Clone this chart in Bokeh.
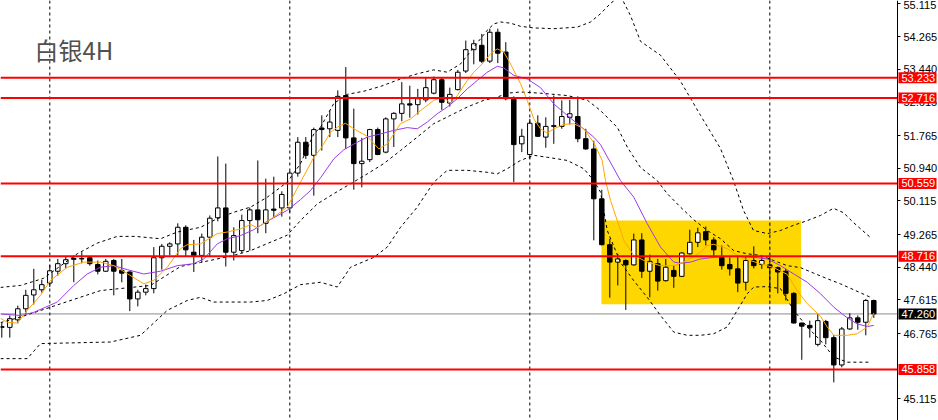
from bokeh.plotting import figure
from bokeh.models import (Range1d, FixedTicker, PrintfTickFormatter, Span,
                          BoxAnnotation, Label, LinearAxis, ColumnDataSource)
from bokeh.core.properties import value
from bokeh.embed import file_html
from bokeh.resources import INLINE

title_text = "白银4H"

# 4-hour candles: open / high / low / close
bar_open = [46.92, 46.92, 47.11, 47.39, 47.74, 47.87, 48.04, 48.34, 48.53, 48.64,
            48.66, 48.68, 48.51, 48.34, 48.61, 48.36, 48.32, 47.64, 47.81, 47.90,
            48.68, 48.97, 49.03, 49.45, 48.82, 48.74, 49.20, 49.69, 49.94, 48.82,
            48.86, 49.62, 49.89, 49.55, 49.91, 49.94, 49.94, 50.82, 51.60, 51.27,
            51.96, 51.94, 51.90, 52.78, 51.71, 51.06, 51.16, 51.92, 51.35, 52.19,
            52.33, 52.57, 52.55, 52.67, 52.84, 53.18, 52.59, 52.93, 53.40, 53.94,
            54.05, 53.65, 54.38, 53.88, 52.72, 51.56, 51.29, 52.08, 51.73, 52.00,
            52.00, 52.23, 52.25, 51.69, 51.43, 50.17, 49.01, 48.57, 48.61, 48.50,
            49.13, 48.34, 48.53, 48.10, 48.36, 48.21, 48.78, 49.07, 49.34, 49.13,
            48.69, 48.51, 48.40, 48.06, 48.61, 48.51, 48.50, 48.43, 48.34, 47.78,
            47.03, 46.97, 46.49, 47.07, 46.66, 45.97, 46.88, 47.16, 47.05, 47.60]
bar_high = [47.04, 47.22, 47.47, 47.87, 48.40, 48.12, 48.50, 48.65, 48.70, 48.74,
            48.82, 48.71, 48.61, 48.65, 48.65, 48.65, 48.34, 47.87, 48.00, 48.95,
            49.03, 49.07, 49.55, 49.50, 49.13, 49.29, 49.75, 51.24, 51.06, 49.45,
            49.77, 49.95, 51.14, 50.68, 50.73, 50.36, 50.87, 51.73, 51.73, 51.97,
            52.28, 52.40, 52.91, 53.50, 52.45, 51.71, 51.94, 51.97, 52.23, 52.36,
            53.12, 53.03, 52.95, 53.23, 53.26, 53.23, 52.98, 53.43, 54.17, 54.19,
            54.34, 54.47, 54.47, 54.13, 52.76, 51.94, 52.19, 52.28, 52.23, 52.78,
            52.66, 52.67, 52.76, 51.94, 51.64, 50.40, 49.16, 48.78, 48.64, 49.29,
            49.30, 48.76, 48.65, 48.65, 48.48, 48.82, 49.39, 49.44, 49.47, 49.20,
            48.99, 48.69, 48.71, 48.71, 48.97, 48.71, 48.71, 48.46, 48.40, 47.81,
            47.04, 47.09, 47.25, 47.11, 46.72, 46.93, 47.28, 47.22, 47.64, 47.62]
bar_low = [46.66, 46.66, 47.02, 47.26, 47.50, 47.80, 47.94, 48.23, 48.41, 48.06,
           48.54, 48.48, 48.26, 48.32, 47.73, 48.06, 47.33, 47.45, 47.73, 47.78,
           48.38, 48.74, 48.74, 48.71, 48.32, 48.57, 48.71, 49.60, 48.46, 48.61,
           48.80, 48.86, 49.30, 49.30, 49.71, 49.72, 49.83, 50.73, 51.18, 50.25,
           51.39, 51.73, 51.73, 51.43, 50.40, 50.46, 51.10, 51.27, 51.32, 51.48,
           52.13, 52.22, 52.30, 52.61, 52.81, 52.42, 52.50, 52.91, 53.35, 53.57,
           53.60, 53.60, 53.60, 52.66, 50.59, 51.35, 51.18, 51.73, 51.46, 51.56,
           51.94, 52.05, 51.60, 51.41, 49.12, 48.99, 47.67, 47.98, 47.36, 48.48,
           48.17, 47.68, 47.85, 48.08, 47.92, 48.20, 48.76, 48.95, 48.99, 48.69,
           48.38, 48.23, 47.81, 47.85, 48.41, 48.40, 47.81, 47.78, 47.60, 47.02,
           46.10, 46.66, 46.44, 46.49, 45.53, 45.91, 46.86, 46.86, 46.72, 47.16]
bar_close = [46.94, 47.14, 47.39, 47.73, 47.87, 48.00, 48.35, 48.53, 48.63, 48.66,
             48.65, 48.53, 48.34, 48.59, 48.34, 48.29, 47.64, 47.81, 47.90, 48.68,
             48.97, 49.03, 49.45, 48.88, 48.74, 49.20, 49.68, 49.94, 48.82, 49.24,
             49.62, 49.89, 49.64, 49.89, 49.88, 50.28, 50.82, 51.60, 51.27, 51.92,
             51.92, 52.11, 52.76, 51.71, 51.06, 51.12, 51.92, 51.29, 52.19, 52.33,
             52.57, 52.54, 52.70, 52.98, 53.18, 52.61, 52.81, 53.37, 53.94, 54.09,
             53.65, 54.38, 53.85, 52.70, 51.54, 51.75, 52.08, 51.75, 52.00, 52.02,
             52.25, 52.32, 51.69, 51.43, 50.17, 49.01, 48.57, 48.65, 48.50, 49.13,
             48.34, 48.59, 48.09, 48.44, 48.21, 48.80, 49.07, 49.31, 49.13, 48.88,
             48.48, 48.40, 48.04, 48.61, 48.48, 48.61, 48.43, 48.32, 47.78, 47.03,
             46.95, 46.91, 47.09, 46.66, 45.97, 46.88, 47.16, 47.05, 47.60, 47.26]

# fast moving average (orange)
ma_fast_bar = [-0.16, 0.68, 1.93, 3.18, 4.84, 6.09, 8.18, 10.25, 12.34, 14.0, 15.68, 17.75,
               19.0, 20.68, 22.34, 23.18, 24.84, 26.93, 28.18, 29.84, 31.09, 31.93, 32.75,
               34.0, 35.68, 37.34, 39.0, 39.84, 41.09, 41.93, 42.96, 44.0, 45.68, 47.13,
               48.18, 49.0, 49.84, 51.09, 52.34, 54.0, 55.25, 56.09, 56.93, 58.18, 59.0,
               60.25, 61.09, 61.93, 62.75, 63.59, 64.84, 65.68, 66.5, 67.34, 68.18, 69.0,
               70.25, 71.5, 72.75, 74.0, 75.05, 75.46, 76.09, 76.93, 77.75, 79.0, 80.68,
               82.34, 84.0, 85.68, 87.34, 88.18, 89.0, 90.68, 91.93, 93.18, 94.84, 96.5,
               98.18, 99.43, 100.68, 102.34, 103.18, 104.0, 105.68, 106.93, 108.18, 109.0]
ma_fast_val = [47.15, 47.05, 47.03, 47.35, 47.73, 48.11, 48.44, 48.57, 48.57, 48.48, 48.28, 48.02,
               48.11, 48.44, 48.91, 49.01, 49.03, 49.29, 49.33, 49.41, 49.52, 49.44, 49.55,
               49.71, 49.96, 50.59, 51.22, 51.43, 51.85, 51.98, 52.08, 51.94, 51.75, 51.43,
               51.56, 51.81, 52.07, 52.19, 52.40, 52.66, 52.74, 52.57, 52.78, 53.16, 53.37,
               53.62, 53.84, 53.96, 53.88, 53.58, 53.08, 52.66, 52.19, 51.94, 51.83, 51.94,
               52.05, 52.07, 51.94, 51.59, 51.14, 50.63, 50.13, 49.62, 49.12, 48.74, 48.57,
               48.48, 48.48, 48.61, 48.82, 48.99, 49.02, 48.91, 48.74, 48.63, 48.53, 48.43,
               48.26, 47.85, 47.52, 47.20, 46.93, 46.72, 46.72, 46.76, 46.93, 47.28]

# slow moving average (purple)
ma_slow_bar = [-0.16, 2.34, 4.0, 6.93, 9.0, 10.68, 12.34, 14.0, 15.68, 17.75, 19.84, 21.93,
               24.0, 25.25, 26.93, 28.18, 29.84, 31.5, 33.18, 35.68, 37.34, 38.59, 39.84,
               41.5, 42.75, 44.43, 45.68, 47.34, 49.0, 50.68, 51.93, 53.18, 54.43, 55.68,
               56.93, 58.18, 59.43, 60.68, 61.93, 62.75, 64.0, 65.68, 67.34, 69.0, 70.68,
               72.34, 74.0, 74.84, 77.34, 79.0, 80.68, 82.34, 84.0, 84.84, 86.09, 87.34,
               89.0, 90.68, 92.34, 94.0, 95.68, 97.34, 99.0, 100.68, 102.34, 104.0, 105.68,
               106.93, 108.18, 109.0]
ma_slow_val = [47.26, 47.22, 47.30, 47.56, 47.98, 48.27, 48.44, 48.48, 48.38, 48.27, 48.34, 48.48,
               48.53, 48.65, 49.03, 49.16, 49.24, 49.39, 49.60, 49.88, 50.15, 50.38, 50.70,
               51.18, 51.41, 51.60, 51.73, 51.81, 51.90, 51.97, 51.94, 52.11, 52.32, 52.49,
               52.70, 52.95, 53.16, 53.37, 53.52, 53.48, 53.29, 53.20, 52.98, 52.57, 52.28,
               52.00, 51.73, 51.54, 50.63, 50.21, 49.54, 48.95, 48.57, 48.54, 48.57, 48.65,
               48.69, 48.71, 48.71, 48.69, 48.65, 48.48, 48.27, 48.06, 47.77, 47.43, 47.16,
               47.01, 46.94, 46.97]

# Bollinger bands (upper / middle / lower)
bb_up_bar = [-0.16, 2.34, 5.21, 9.43, 11.93, 14.43, 16.71, 19.84, 21.93, 24.84, 26.93, 29.0,
             31.09, 33.18, 35.68, 37.34, 39.0, 39.84, 41.5, 43.18, 45.25, 47.34, 49.84, 51.93,
             54.0, 55.68, 57.34, 59.0, 60.68, 61.5, 62.34, 63.59, 64.84, 66.5, 69.0, 71.93,
             73.59, 74.84, 76.09, 77.34, 78.59, 79.84, 82.34, 84.84, 87.34, 89.84, 91.46, 92.71,
             93.96, 95.71, 97.34, 98.96, 100.71, 102.34, 103.96, 105.21, 106.46, 108.59]
bb_up_val = [47.93, 47.98, 48.16, 48.78, 49.05, 49.22, 49.22, 49.16, 49.33, 49.45, 49.67, 49.83,
             49.96, 50.21, 50.59, 51.06, 51.81, 51.98, 52.58, 52.81, 52.89, 53.01, 53.20, 53.33,
             53.43, 53.37, 53.58, 54.00, 54.43, 54.59, 54.64, 54.61, 54.53, 54.49, 54.47, 54.51,
             54.64, 54.85, 55.11, 55.30, 54.80, 54.15, 53.80, 53.14, 52.28, 51.44, 50.63, 49.88,
             49.37, 49.29, 49.37, 49.50, 49.62, 49.75, 49.93, 49.82, 49.57, 49.19]
bb_mid_bar = [-0.16, 2.34, 12.34, 18.59, 22.34, 24.84, 29.0, 31.09, 35.68, 37.34, 39.43, 41.5,
              43.59, 45.68, 47.75, 49.84, 51.93, 54.0, 56.09, 58.18, 60.25, 61.93, 63.18, 64.84,
              67.34, 70.68, 73.21, 74.84, 76.96, 78.21, 79.84, 81.93, 83.18, 84.84, 86.5, 88.18,
              89.84, 91.5, 93.18, 94.84, 96.5, 98.18, 99.84, 101.5, 103.18, 104.84, 106.5, 108.59]
bb_mid_val = [47.04, 47.18, 47.85, 47.98, 48.46, 48.56, 48.74, 48.86, 49.25, 49.62, 50.04, 50.30,
              50.55, 50.80, 51.06, 51.39, 51.73, 52.07, 52.28, 52.49, 52.66, 52.74, 52.84, 52.87,
              52.84, 52.78, 52.66, 52.40, 51.97, 51.47, 50.96, 50.63, 50.30, 49.96, 49.64, 49.37,
              49.16, 48.86, 48.78, 48.74, 48.61, 48.48, 48.43, 48.29, 48.15, 48.02, 47.87, 47.68]
bb_low_bar = [-0.16, 3.18, 4.84, 13.59, 17.34, 20.68, 23.18, 24.84, 26.5, 31.09, 33.18, 35.25,
              37.34, 39.84, 41.93, 43.59, 46.5, 48.18, 49.84, 51.93, 54.0, 55.68, 58.18, 60.68,
              61.93, 63.18, 64.84, 66.5, 68.18, 70.68, 72.75, 74.0, 74.84, 75.68, 77.34, 78.96,
              80.68, 82.34, 84.0, 85.68, 87.34, 89.0, 90.68, 91.93, 93.18, 94.0, 95.68, 97.34,
              99.0, 100.68, 102.34, 104.0, 105.68, 108.59]
bb_low_val = [46.13, 46.13, 46.51, 46.55, 46.72, 47.35, 47.60, 47.68, 47.56, 47.56, 47.60, 47.77,
              48.00, 48.06, 47.94, 48.44, 48.69, 48.95, 49.45, 49.96, 50.59, 50.89, 50.89, 50.84,
              50.80, 50.93, 51.14, 51.27, 51.22, 51.14, 50.93, 50.63, 50.34, 49.37, 48.56, 48.11,
              47.68, 47.22, 46.80, 46.72, 46.72, 46.76, 46.93, 47.35, 47.77, 47.94, 47.95, 47.90,
              47.35, 46.93, 46.59, 46.17, 46.04, 46.04]

# horizontal key levels, last price, axis ticks
key_levels = [53.233, 52.716, 50.559, 48.716, 45.858]
last_price = 47.260
price_ticks = [55.115, 54.265, 53.440, 52.615, 51.765, 50.940, 50.115,
               49.265, 48.440, 47.615, 46.765, 45.115]

# consolidation zone (bar span and price span)
zone_bar_from, zone_bar_to = 74.95, 99.9
zone_price_low, zone_price_high = 47.506, 49.62

# session separators (bar index)
separator_bars = [6, 36, 66, 96]

# ---------------------------------------------------------------- layout
CANVAS_W, CANVAS_H = 938, 420
BAR_PX = 8.0                      # horizontal pixels per bar
AXIS_PX = 897                     # price scale sits here
X0 = -0.1625
X1 = X0 + CANVAS_W / BAR_PX
Y0, Y1 = 44.566, 55.183
AXIS_X = X0 + AXIS_PX / BAR_PX


def px_to_x(px):
    return X0 + px / BAR_PX


def px_to_y(py):
    return Y1 - py * (Y1 - Y0) / CANVAS_H


p = figure(frame_width=CANVAS_W, frame_height=CANVAS_H,
           x_range=Range1d(X0, X1), y_range=Range1d(Y0, Y1),
           output_backend="svg", toolbar_location=None,
           x_axis_location=None, y_axis_location=None, min_border=0)
p.grid.visible = False
p.outline_line_color = None
p.background_fill_color = "white"
p.border_fill_color = "white"

# price scale drawn at the right edge of the chart area
ax = LinearAxis(fixed_location=AXIS_X)
ax.ticker = FixedTicker(ticks=price_ticks)
ax.formatter = PrintfTickFormatter(format="%.3f")
ax.axis_line_color = "black"
ax.major_tick_line_color = "black"
ax.major_tick_out = 3
ax.major_tick_in = 0
ax.minor_tick_out = 0
ax.minor_tick_in = 0
ax.major_label_standoff = 3
ax.major_label_text_font = "Liberation Sans"
ax.major_label_text_font_size = "11px"
ax.major_label_text_color = "black"
p.add_layout(ax, "right")

# background zone
p.add_layout(BoxAnnotation(left=zone_bar_from, right=zone_bar_to,
                           bottom=zone_price_low, top=zone_price_high,
                           fill_color="#FFD700", fill_alpha=1.0, line_color=None,
                           level="underlay"))

for b in separator_bars:
    p.add_layout(Span(location=b, dimension="height", line_color="black",
                      line_width=1, line_dash="3 3", level="underlay"))

p.segment(x0=[X0], y0=[last_price], x1=[AXIS_X], y1=[last_price],
          line_color="#8C8C8C", line_width=1, level="underlay")

# separator seen through the zone
for b in separator_bars:
    if zone_bar_from < b < zone_bar_to:
        p.segment(x0=[b], y0=[zone_price_low], x1=[b], y1=[zone_price_high],
                  line_color="#2040C0", line_width=1, line_dash="3 3")

# candles
n = len(bar_open)
src = ColumnDataSource(dict(
    x=list(range(n)), high=bar_high, low=bar_low,
    top=[max(o, c) for o, c in zip(bar_open, bar_close)],
    bottom=[min(o, c) for o, c in zip(bar_open, bar_close)],
    fill=["white" if c >= o else "black" for o, c in zip(bar_open, bar_close)],
))
p.segment(x0="x", y0="high", x1="x", y1="low", source=src,
          line_color="black", line_width=1)
p.vbar(x="x", width=0.56, top="top", bottom="bottom", source=src,
       fill_color="fill", line_color="black", line_width=1)

# indicators
for bars, vals in ((bb_up_bar, bb_up_val), (bb_mid_bar, bb_mid_val),
                   (bb_low_bar, bb_low_val)):
    p.line(bars, vals, line_color="black", line_width=1, line_dash="3 3")
p.line(ma_slow_bar, ma_slow_val, line_color="#9A3CE6", line_width=1)
p.line(ma_fast_bar, ma_fast_val, line_color="#FFA500", line_width=1)

# key levels
p.segment(x0=[X0] * len(key_levels), y0=key_levels,
          x1=[AXIS_X] * len(key_levels), y1=key_levels,
          line_color="#FF0000", line_width=2)

# price tags on the scale, drawn above the axis labels
tag_prices = key_levels + [last_price]
tag_colors = ["#FF0000"] * len(key_levels) + ["black"]
tag_src = ColumnDataSource(dict(
    y=tag_prices, fill=tag_colors, text=[f"{v:.3f}" for v in tag_prices]))
p.rect(x=px_to_x(AXIS_PX + 20), y="y", width=38 / BAR_PX, height=11,
       height_units="screen", source=tag_src, fill_color="fill", line_color=None,
       level="overlay")
p.text(x=px_to_x(AXIS_PX + 4), y="y", text="text", source=tag_src,
       text_color="white", text_font=value("Liberation Sans"),
       text_font_size="11px", text_baseline="middle", text_align="left",
       level="overlay")

p.add_layout(Label(x=px_to_x(34), y=px_to_y(49), text=title_text,
                   text_font="Noto Sans CJK SC", text_font_size="24px",
                   text_color="#505050", text_baseline="alphabetic"))

open("out.html", "w").write(file_html(p, INLINE))
